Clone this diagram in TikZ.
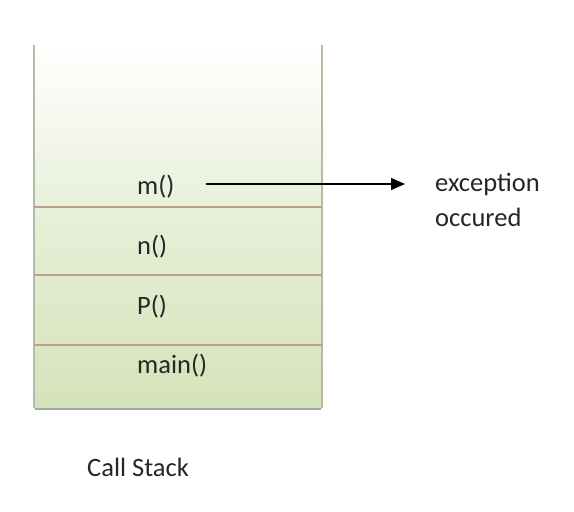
\documentclass[tikz,border=0pt]{standalone}
\usepackage{fontspec}
\setmainfont{Carlito}
\usetikzlibrary{arrows.meta}

\definecolor{stackgreen}{HTML}{D5E3BA}
\definecolor{sepline}{HTML}{C49F88}
\definecolor{sideline}{HTML}{B4BBA6}
\tikzset{lbl/.style={anchor=west,inner sep=0pt,font=\fontsize{26.5}{30}\selectfont,text=black!85}}

\begin{document}
\begin{tikzpicture}[x=1pt,y=-1pt]
\draw[draw=none,fill=white] (0,0) rectangle (574,512);
\shade[top color=white,bottom color=stackgreen,middle color=stackgreen!60] (34,45) rectangle (322,408);
\draw[sideline,line width=1.2pt] (34,45) -- (34,408);
\draw[sideline,line width=1.2pt] (322,45) -- (322,408);
\draw[black!35,line width=2.5pt] (35,409) -- (321,409);
\draw[sepline,line width=1.3pt] (34,207) -- (322,207);
\draw[sepline,line width=1.3pt] (34,275) -- (322,275);
\draw[sepline,line width=1.3pt] (34,345) -- (322,345);
\node[lbl] (m) at (137,187) {m()};
\node[lbl] (n) at (137,247) {n()};
\node[lbl] (p) at (137,307) {P()};
\node[lbl] (main) at (137,366) {main()};
\node[lbl] (exc) at (435,184) {exception};
\node[lbl] (occ) at (435,217) {occured};
\node[lbl] (cs) at (87,467) {Call Stack};
\draw[-{Triangle[length=14pt,width=12pt]},line width=1.2pt] ([xshift=31pt]m.east |- exc.west) -- ([xshift=-30pt]exc.west);
\end{tikzpicture}
\end{document}
